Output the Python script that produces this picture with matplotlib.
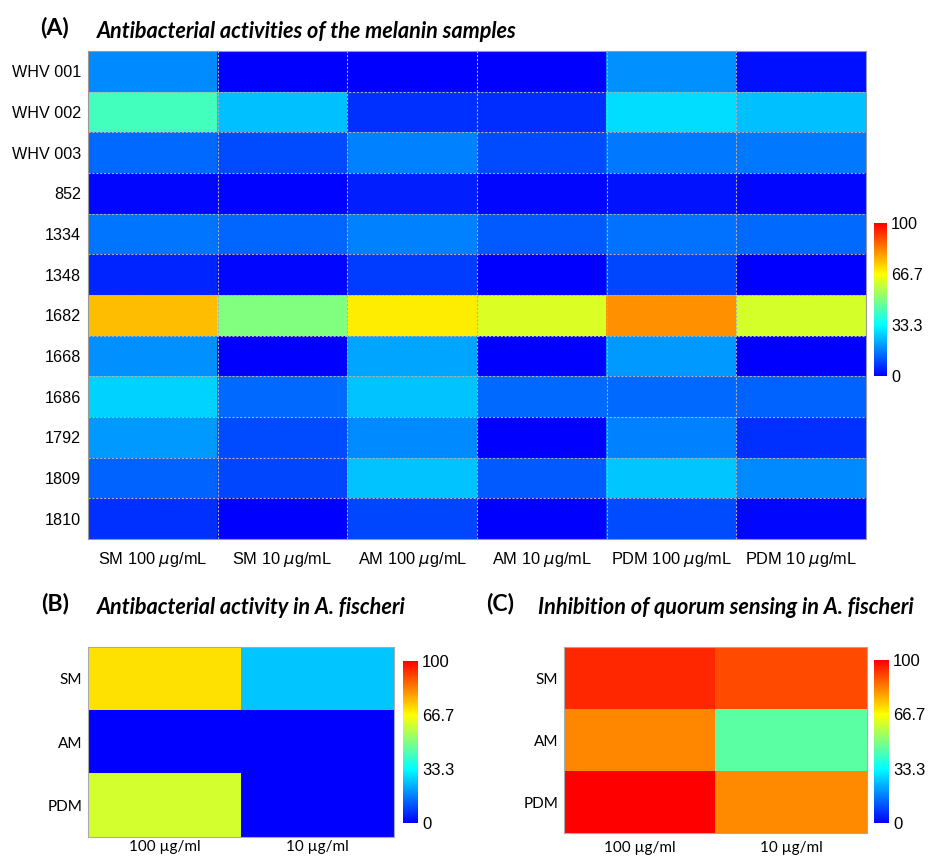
import numpy as np
import matplotlib
matplotlib.use("Agg")
import matplotlib.pyplot as plt
from matplotlib.colors import LinearSegmentedColormap

# ---------------- data ----------------
rows_a = ["WHV 001", "WHV 002", "WHV 003", "852", "1334", "1348",
          "1682", "1668", "1686", "1792", "1809", "1810"]
cols_a = ["SM 100 $\\mu$g/mL", "SM 10 $\\mu$g/mL", "AM 100 $\\mu$g/mL",
          "AM 10 $\\mu$g/mL", "PDM 100 $\\mu$g/mL", "PDM 10 $\\mu$g/mL"]
vals_a = [
    [18, 0, 0, 0, 19, 2],
    [42, 25, 6.5, 6, 29, 25],
    [14, 10, 17, 10, 16, 16],
    [1, 0.5, 4, 1, 2.5, 1],
    [15.5, 13.5, 17, 12, 15, 14],
    [5, 1, 8, 0, 9, 0],
    [75, 50, 69, 62, 81, 61],
    [19, 0, 21.5, 0, 20, 0],
    [27.5, 14, 25.5, 14, 14, 13],
    [20, 10, 18, 0, 17, 6.5],
    [13, 9, 25.5, 12, 26, 18],
    [6.5, 0, 9, 0, 10, 1],
]

rows_bc = ["SM", "AM", "PDM"]
cols_bc = ["100 µg/ml", "10 µg/ml"]
vals_b = [
    [70.7, 26],
    [0, 0],
    [60.7, 0],
]
vals_c = [
    [94.7, 90],
    [82.4, 45],
    [100, 81.7],
]
cbar_ticks = [0, 33.3, 66.7, 100]
cbar_labels = ["0", "33.3", "66.7", "100"]

# ---------------- style ----------------
cmap = LinearSegmentedColormap.from_list(
    "bcyr", ["#0000ff", "#00ffff", "#ffff00", "#ff0000"], N=256)
W, H = 929, 857
fig = plt.figure(figsize=(W / 100, H / 100), dpi=100)

def rect(x0, y0, x1, y1):
    return [x0 / W, 1 - y1 / H, (x1 - x0) / W, (y1 - y0) / H]

# ---------------- panel A ----------------
axA = fig.add_axes(rect(88, 51, 866, 539))
A = np.array(vals_a)
imA = axA.imshow(A, cmap=cmap, vmin=0, vmax=100, aspect="auto",
                 interpolation="nearest")
axA.set_xticks(range(len(cols_a)))
axA.set_xticklabels(cols_a, fontsize=11.8, family="Liberation Sans")
axA.set_yticks(range(len(rows_a)))
axA.set_yticklabels(rows_a, fontsize=11.6, family="Liberation Sans")
axA.tick_params(axis="y", length=0, pad=5)
axA.tick_params(axis="x", length=0, pad=8)
for i in range(1, len(rows_a)):
    axA.axhline(i - 0.5, color="#b0b0b0", lw=0.8, ls=(0, (2, 1.5)))
for j in range(1, len(cols_a)):
    axA.axvline(j - 0.5, color="#b0b0b0", lw=0.8, ls=(0, (2, 1.5)))
for s in axA.spines.values():
    s.set_color("#999999")
    s.set_linewidth(0.8)

caxA = fig.add_axes(rect(874, 223, 887, 376))
cbA = fig.colorbar(imA, cax=caxA, ticks=cbar_ticks)
cbA.ax.set_yticklabels(cbar_labels, fontsize=11.7, family="Liberation Sans")
cbA.ax.tick_params(length=0, pad=3)
cbA.outline.set_visible(False)

fig.text(55 / W, 1 - 28 / H, "(A)", fontsize=16.7, fontweight="bold",
         family="Lato", ha="center", va="center")
fig.text(97 / W, 1 - 31 / H, "Antibacterial activities of the melanin samples",
         fontsize=15.6, fontweight="bold", fontstyle="italic", family="Lato",
         ha="left", va="center")

# ---------------- panels B and C ----------------
def small_panel(box, cbox, vals, label, lx, title, tx, xpad):
    ax = fig.add_axes(rect(*box))
    im = ax.imshow(np.array(vals), cmap=cmap, vmin=0, vmax=100, aspect="auto",
                   interpolation="nearest")
    ax.set_xticks(range(len(cols_bc)))
    ax.set_xticklabels(cols_bc, fontsize=11, family="Lato")
    ax.set_yticks(range(len(rows_bc)))
    ax.set_yticklabels(rows_bc, fontsize=11, family="Lato")
    ax.tick_params(axis="y", length=0, pad=4)
    ax.tick_params(axis="x", length=0, pad=xpad)
    for s in ax.spines.values():
        s.set_color("#aaaaaa")
        s.set_linewidth(0.8)
    cax = fig.add_axes(rect(*cbox))
    cb = fig.colorbar(im, cax=cax, ticks=cbar_ticks)
    cb.ax.set_yticklabels(cbar_labels, fontsize=12, family="Liberation Sans")
    cb.ax.tick_params(length=0, pad=3)
    cb.outline.set_visible(False)
    fig.text(lx / W, 1 - 604 / H, label, fontsize=16.7, fontweight="bold",
             family="Lato", ha="center", va="center")
    fig.text(tx / W, 1 - 607 / H, title, fontsize=15.6, fontweight="bold",
             fontstyle="italic", family="Lato", ha="left", va="center")

small_panel((88, 647, 394, 837), (403, 661, 418, 823), vals_b, "(B)", 55,
            "Antibacterial activity in A. fischeri", 97, 2.5)
small_panel((564, 647, 867, 833), (874, 660, 889, 823), vals_c, "(C)", 500,
            "Inhibition of quorum sensing in A. fischeri", 538, 6)

fig.savefig("out.png", dpi=100)
